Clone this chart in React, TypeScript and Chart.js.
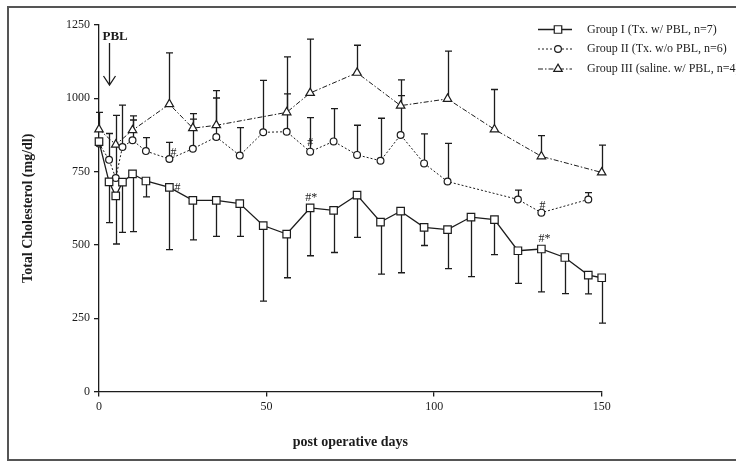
import React, { useEffect, useRef } from 'react';
import { Chart, registerables } from 'chart.js';

Chart.register(...registerables);

// ---- data -------------------------------------------------------------
// Group I (Tx. w/ PBL, n=7): mean and lower end of the error bar
const groupIDays = [0, 3, 5, 7, 10, 14, 21, 28, 35, 42, 49, 56, 63, 70, 77, 84, 90, 97, 104, 111, 118, 125, 132, 139, 146, 150];
const groupIMean = [852, 715, 667, 714, 742, 718, 696, 652, 652, 641, 566, 537, 626, 618, 670, 578, 615, 560, 552, 595, 586, 480, 486, 457, 397, 388];
const groupILower = [null, 576, 503, 543, 545, 664, 484, 517, 529, 529, 308, 388, 463, 474, 526, 400, 405, 498, 419, 392, 467, 369, 340, 334, 333, 233];

// Group II (Tx. w/o PBL, n=6): mean and upper end of the error bar
const groupIIDays = [0, 3, 5, 7, 10, 14, 21, 28, 35, 42, 49, 56, 63, 70, 77, 84, 90, 97, 104, 125, 132, 146];
const groupIIMean = [846, 790, 728, 834, 857, 820, 793, 828, 868, 805, 884, 886, 818, 853, 807, 787, 875, 778, 716, 655, 610, 655];
const groupIIUpper = [null, 880, 942, 977, 926, 866, 850, 929, 1001, 900, 1061, 1015, 934, 965, 908, 932, 1009, 879, 846, 687, null, 678];

// Group III (saline. w/ PBL, n=4): mean and upper end of the error bar
const groupIIIDays = [0, 5, 10, 21, 28, 35, 56, 63, 77, 90, 104, 118, 132, 150];
const groupIIIMean = [894, 842, 891, 980, 898, 908, 952, 1018, 1087, 975, 998, 894, 802, 747];
const groupIIIUpper = [952, null, 940, 1155, 948, 1026, 1141, 1202, 1181, 1063, 1161, 1030, 873, 840];

const groupLabels = [
  'Group I (Tx. w/ PBL, n=7)',
  'Group II (Tx. w/o PBL, n=6)',
  'Group III (saline. w/ PBL, n=4)',
];

// significance marks: [group index, day, text]
const significanceMarks: [number, number, string][] = [
  [1, 21, '#'],
  [0, 21, '#'],
  [1, 63, '#'],
  [0, 63, '#*'],
  [1, 132, '#'],
  [0, 132, '#*'],
];

const xTicks = [0, 50, 100, 150];
const yTicks = [0, 250, 500, 750, 1000, 1250];

const pblDay = 3;
const pblText = 'PBL';
const xTitle = 'post operative days';
const yTitle = 'Total Cholesterol (mg/dl)';

// ---- styles -----------------------------------------------------------
const SERIF = '"Liberation Serif", "Times New Roman", serif';
const INK = '#1c1c1c';
const groupDash = [[], [2, 2], [5, 2, 1.5, 2]];
const groupPoint = ['rect', 'circle', 'triangle'];
const groupRadius = [5.3, 3.4, 4.9];
const markOffsets = [
  [4, -6],
  [8, 0],
  [0, -9],
  [1, -10],
  [1, -7],
  [3, -10],
];

const toPoints = (days: number[], values: number[]) => days.map((d, i) => ({ x: d, y: values[i] }));

const seriesDays = [groupIDays, groupIIDays, groupIIIDays];
const seriesMean = [groupIMean, groupIIMean, groupIIIMean];
const seriesErrEnd = [groupILower, groupIIUpper, groupIIIUpper];

function drawMarker(ctx: CanvasRenderingContext2D, kind: number, x: number, y: number) {
  const r = groupRadius[kind];
  ctx.beginPath();
  if (kind === 0) {
    const s = r * Math.SQRT1_2;
    ctx.rect(x - s, y - s, 2 * s, 2 * s);
  } else if (kind === 1) {
    ctx.arc(x, y, r, 0, Math.PI * 2);
  } else {
    ctx.moveTo(x, y - r);
    ctx.lineTo(x + r * Math.sin((2 * Math.PI) / 3), y - r * Math.cos((2 * Math.PI) / 3));
    ctx.lineTo(x + r * Math.sin((4 * Math.PI) / 3), y - r * Math.cos((4 * Math.PI) / 3));
    ctx.closePath();
  }
  ctx.fillStyle = '#fff';
  ctx.fill();
  ctx.lineWidth = 1.2;
  ctx.strokeStyle = INK;
  ctx.stroke();
}

const errorBarPlugin = {
  id: 'errorBars',
  beforeDatasetsDraw(chart: any) {
    const { ctx, scales } = chart;
    const xs = scales.x;
    const ys = scales.y;
    ctx.save();
    ctx.strokeStyle = INK;
    ctx.lineWidth = 1.3;
    ctx.setLineDash([]);
    seriesDays.forEach((days, g) => {
      days.forEach((d, i) => {
        const end = seriesErrEnd[g][i];
        if (end == null) return;
        const px = Math.round(xs.getPixelForValue(d)) + 0.5;
        const y0 = ys.getPixelForValue(seriesMean[g][i]);
        const y1 = ys.getPixelForValue(end);
        ctx.beginPath();
        ctx.moveTo(px, y0);
        ctx.lineTo(px, y1);
        ctx.moveTo(px - 3.5, y1);
        ctx.lineTo(px + 3.5, y1);
        ctx.stroke();
      });
    });
    ctx.restore();
  },
};

const annotationPlugin = {
  id: 'annotations',
  afterDatasetsDraw(chart: any) {
    const { ctx, scales, chartArea } = chart;
    const xs = scales.x;
    const ys = scales.y;
    ctx.save();
    ctx.fillStyle = INK;
    ctx.strokeStyle = INK;

    // significance marks
    ctx.font = `12px ${SERIF}`;
    ctx.textAlign = 'center';
    ctx.textBaseline = 'middle';
    significanceMarks.forEach(([g, day, text], k) => {
      const i = seriesDays[g].indexOf(day);
      const px = xs.getPixelForValue(day) + markOffsets[k][0];
      const py = ys.getPixelForValue(seriesMean[g][i]) + markOffsets[k][1];
      ctx.fillText(text, px, py);
    });

    // PBL arrow
    const ax = Math.round(xs.getPixelForValue(pblDay)) + 0.5;
    const aTop = chartArea.top + 18;
    const aTip = chartArea.top + 60;
    ctx.lineWidth = 1.3;
    ctx.beginPath();
    ctx.moveTo(ax, aTop);
    ctx.lineTo(ax, aTip);
    ctx.moveTo(ax - 6, aTip - 9);
    ctx.lineTo(ax, aTip);
    ctx.lineTo(ax + 6, aTip - 9);
    ctx.stroke();
    ctx.font = `bold 13px ${SERIF}`;
    ctx.textAlign = 'left';
    ctx.fillText(pblText, ax - 7, chartArea.top + 12);

    // legend
    const lx0 = 538;
    const lx1 = 572;
    const mx = 558;
    const rows = [29, 48.5, 68.5];
    ctx.font = `12px ${SERIF}`;
    ctx.textAlign = 'left';
    groupLabels.forEach((label, g) => {
      const y = rows[g];
      ctx.save();
      ctx.setLineDash(groupDash[g]);
      ctx.lineWidth = g === 0 ? 1.3 : 1;
      ctx.beginPath();
      ctx.moveTo(lx0, y + 0.5);
      ctx.lineTo(lx1, y + 0.5);
      ctx.stroke();
      ctx.restore();
      drawMarker(ctx, g, mx, y + 0.5);
      ctx.fillStyle = INK;
      ctx.fillText(label, 587, y + 0.5);
    });
    ctx.restore();
  },
};

export default function App() {
  const canvasRef = useRef<HTMLCanvasElement | null>(null);

  useEffect(() => {
    const canvas = canvasRef.current;
    if (!canvas) return;

    const datasets = seriesDays.map((days, g) => ({
      label: groupLabels[g],
      data: toPoints(days, seriesMean[g]),
      borderColor: INK,
      borderWidth: g === 0 ? 1.3 : 1,
      borderDash: groupDash[g],
      pointStyle: groupPoint[g],
      pointRadius: groupRadius[g],
      pointBorderWidth: 1.2,
      pointBackgroundColor: '#fff',
      pointBorderColor: INK,
      fill: false,
      tension: 0,
      clip: false,
    }));

    const chart = new Chart(canvas, {
      type: 'line',
      data: { datasets },
      plugins: [errorBarPlugin, annotationPlugin],
      options: {
        animation: false,
        responsive: false,
        devicePixelRatio: 1,
        layout: { padding: { left: 0, top: 25, right: 134.3, bottom: 0 } },
        plugins: {
          legend: { display: false },
          tooltip: { enabled: false },
        },
        scales: {
          x: {
            type: 'linear',
            min: 0,
            max: 150,
            afterBuildTicks: (scale: any) => {
              scale.ticks = xTicks.map((v) => ({ value: v }));
            },
            afterFit: (scale: any) => {
              scale.height = 71.5;
              scale.paddingLeft = 0;
              scale.paddingRight = 0;
            },
            ticks: {
              color: INK,
              padding: 3,
              maxRotation: 0,
              font: { family: SERIF, size: 12 },
              callback: (v: any) => String(v),
            },
            grid: {
              drawOnChartArea: false,
              drawTicks: true,
              tickLength: 5,
              color: INK,
              lineWidth: 1.3,
            },
            border: { display: true, color: INK, width: 1.3 },
            title: {
              display: true,
              text: xTitle,
              color: INK,
              font: { family: SERIF, size: 14, weight: 'bold' },
              padding: { top: 0, bottom: 12.6 },
            },
          },
          y: {
            type: 'linear',
            min: 0,
            max: 1250,
            afterBuildTicks: (scale: any) => {
              scale.ticks = yTicks.map((v) => ({ value: v }));
            },
            afterFit: (scale: any) => {
              scale.width = 99;
              scale.paddingTop = 0;
              scale.paddingBottom = 0;
            },
            ticks: {
              color: INK,
              padding: 4,
              font: { family: SERIF, size: 12 },
              callback: (v: any) => String(v),
            },
            grid: {
              drawOnChartArea: false,
              drawTicks: true,
              tickLength: 5,
              color: INK,
              lineWidth: 1.3,
            },
            border: { display: true, color: INK, width: 1.3 },
            title: {
              display: true,
              text: yTitle,
              color: INK,
              font: { family: SERIF, size: 14, weight: 'bold' },
              padding: { top: 20, bottom: 0 },
            },
          },
        },
      } as any,
    });

    return () => chart.destroy();
  }, []);

  return (
    <div
      style={{
        position: 'fixed',
        left: 0,
        top: 0,
        width: 736,
        height: 463,
        background: '#fff',
        overflow: 'hidden',
      }}
    >
      <div
        style={{
          position: 'absolute',
          left: 7,
          top: 6,
          width: 732,
          height: 451,
          border: '2px solid #555',
          pointerEvents: 'none',
        }}
      />
      <canvas ref={canvasRef} width={736} height={463} style={{ position: 'absolute', left: 0, top: 0 }} />
    </div>
  );
}
